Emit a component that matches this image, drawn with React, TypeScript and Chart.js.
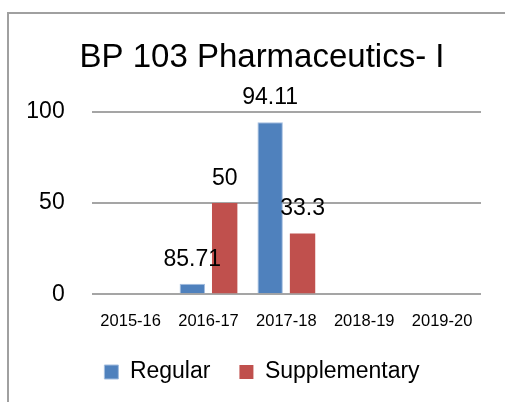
import React, { useEffect, useRef } from "react";
import { Chart, registerables } from "chart.js";

Chart.register(...registerables);

const categories = ["2015-16", "2016-17", "2017-18", "2018-19", "2019-20"];
const regularValues = [0, 5.71, 94.11, 0, 0];
const regularLabels = ["", "85.71", "94.11", "", ""];
const supplementaryValues = [0, 50, 33.3, 0, 0];
const supplementaryLabels = ["", "50", "33.3", "", ""];
const yTicks = [0, 50, 100];
const titleText = "BP 103 Pharmaceutics- I";

const FONT = "'Liberation Sans', Arial, sans-serif";

const framePlugin = {
  id: "frame",
  beforeDraw(chart: any) {
    const ctx = chart.ctx;
    ctx.save();
    ctx.strokeStyle = "#a0a0a0";
    ctx.lineWidth = 2;
    ctx.beginPath();
    ctx.moveTo(8, chart.height);
    ctx.lineTo(8, 13);
    ctx.lineTo(chart.width, 13);
    ctx.stroke();
    ctx.restore();
  },
};

const labelsPlugin = {
  id: "barLabels",
  afterDatasetsDraw(chart: any) {
    const ctx = chart.ctx;
    const sets = [regularLabels, supplementaryLabels];
    ctx.save();
    ctx.font = `23px ${FONT}`;
    ctx.fillStyle = "#000000";
    ctx.textAlign = "center";
    ctx.textBaseline = "alphabetic";
    chart.data.datasets.forEach((_ds: any, di: number) => {
      const meta = chart.getDatasetMeta(di);
      meta.data.forEach((el: any, i: number) => {
        const txt = sets[di][i];
        if (!txt) return;
        ctx.fillText(txt, el.x, el.y - 18.3);
      });
    });
    ctx.restore();
  },
};

export default function App() {
  const ref = useRef<HTMLCanvasElement | null>(null);

  useEffect(() => {
    if (!ref.current) return;
    const chart = new Chart(ref.current, {
      type: "bar",
      data: {
        labels: categories,
        datasets: [
          {
            label: "Regular",
            data: regularValues,
            backgroundColor: "#4f81bd",
            borderColor: "#a3bddf",
            borderWidth: 1,
            categoryPercentage: 0.832,
            barPercentage: 0.784,
          },
          {
            label: "Supplementary",
            data: supplementaryValues,
            backgroundColor: "#c0504d",
            borderWidth: 0,
            categoryPercentage: 0.832,
            barPercentage: 0.784,
          },
        ],
      },
      options: {
        responsive: false,
        animation: false,
        layout: { padding: { left: 43, right: 24, top: 0, bottom: 8.5 } },
        plugins: {
          title: {
            display: true,
            text: titleText,
            color: "#000000",
            font: { family: FONT, size: 33, weight: "normal" },
            padding: { top: 38, bottom: 34 },
          },
          legend: {
            display: true,
            position: "bottom",
            labels: {
              color: "#000000",
              font: { family: FONT, size: 23 },
              boxWidth: 14,
              boxHeight: 14,
              padding: 29,
            },
          },
          tooltip: { enabled: false },
        },
        scales: {
          x: {
            afterFit(scale: any) {
              scale.height = 37.2;
            },
            grid: { display: false, drawTicks: false },
            border: { display: false },
            ticks: {
              color: "#000000",
              font: { family: FONT, size: 16.5 },
              padding: 16.8,
              maxRotation: 0,
              autoSkip: false,
            },
          },
          y: {
            min: 0,
            max: 100,
            afterFit(scale: any) {
              scale.width = 48.7;
              scale._computeLabelArea = () => undefined;
            },
            afterBuildTicks(scale: any) {
              scale.ticks = yTicks.map((v) => ({ value: v }));
            },
            grid: { color: "#a5a5a5", lineWidth: 2, drawTicks: false },
            border: { display: false },
            ticks: {
              color: "#000000",
              font: { family: FONT, size: 23 },
              padding: 27,
            },
          },
        },
      },
      plugins: [framePlugin, labelsPlugin],
    });
    return () => chart.destroy();
  }, []);

  return (
    <div style={{ position: "absolute", left: 0, top: 0, width: 505, height: 402, background: "#ffffff" }}>
      <canvas ref={ref} width={505} height={402} />
    </div>
  );
}
